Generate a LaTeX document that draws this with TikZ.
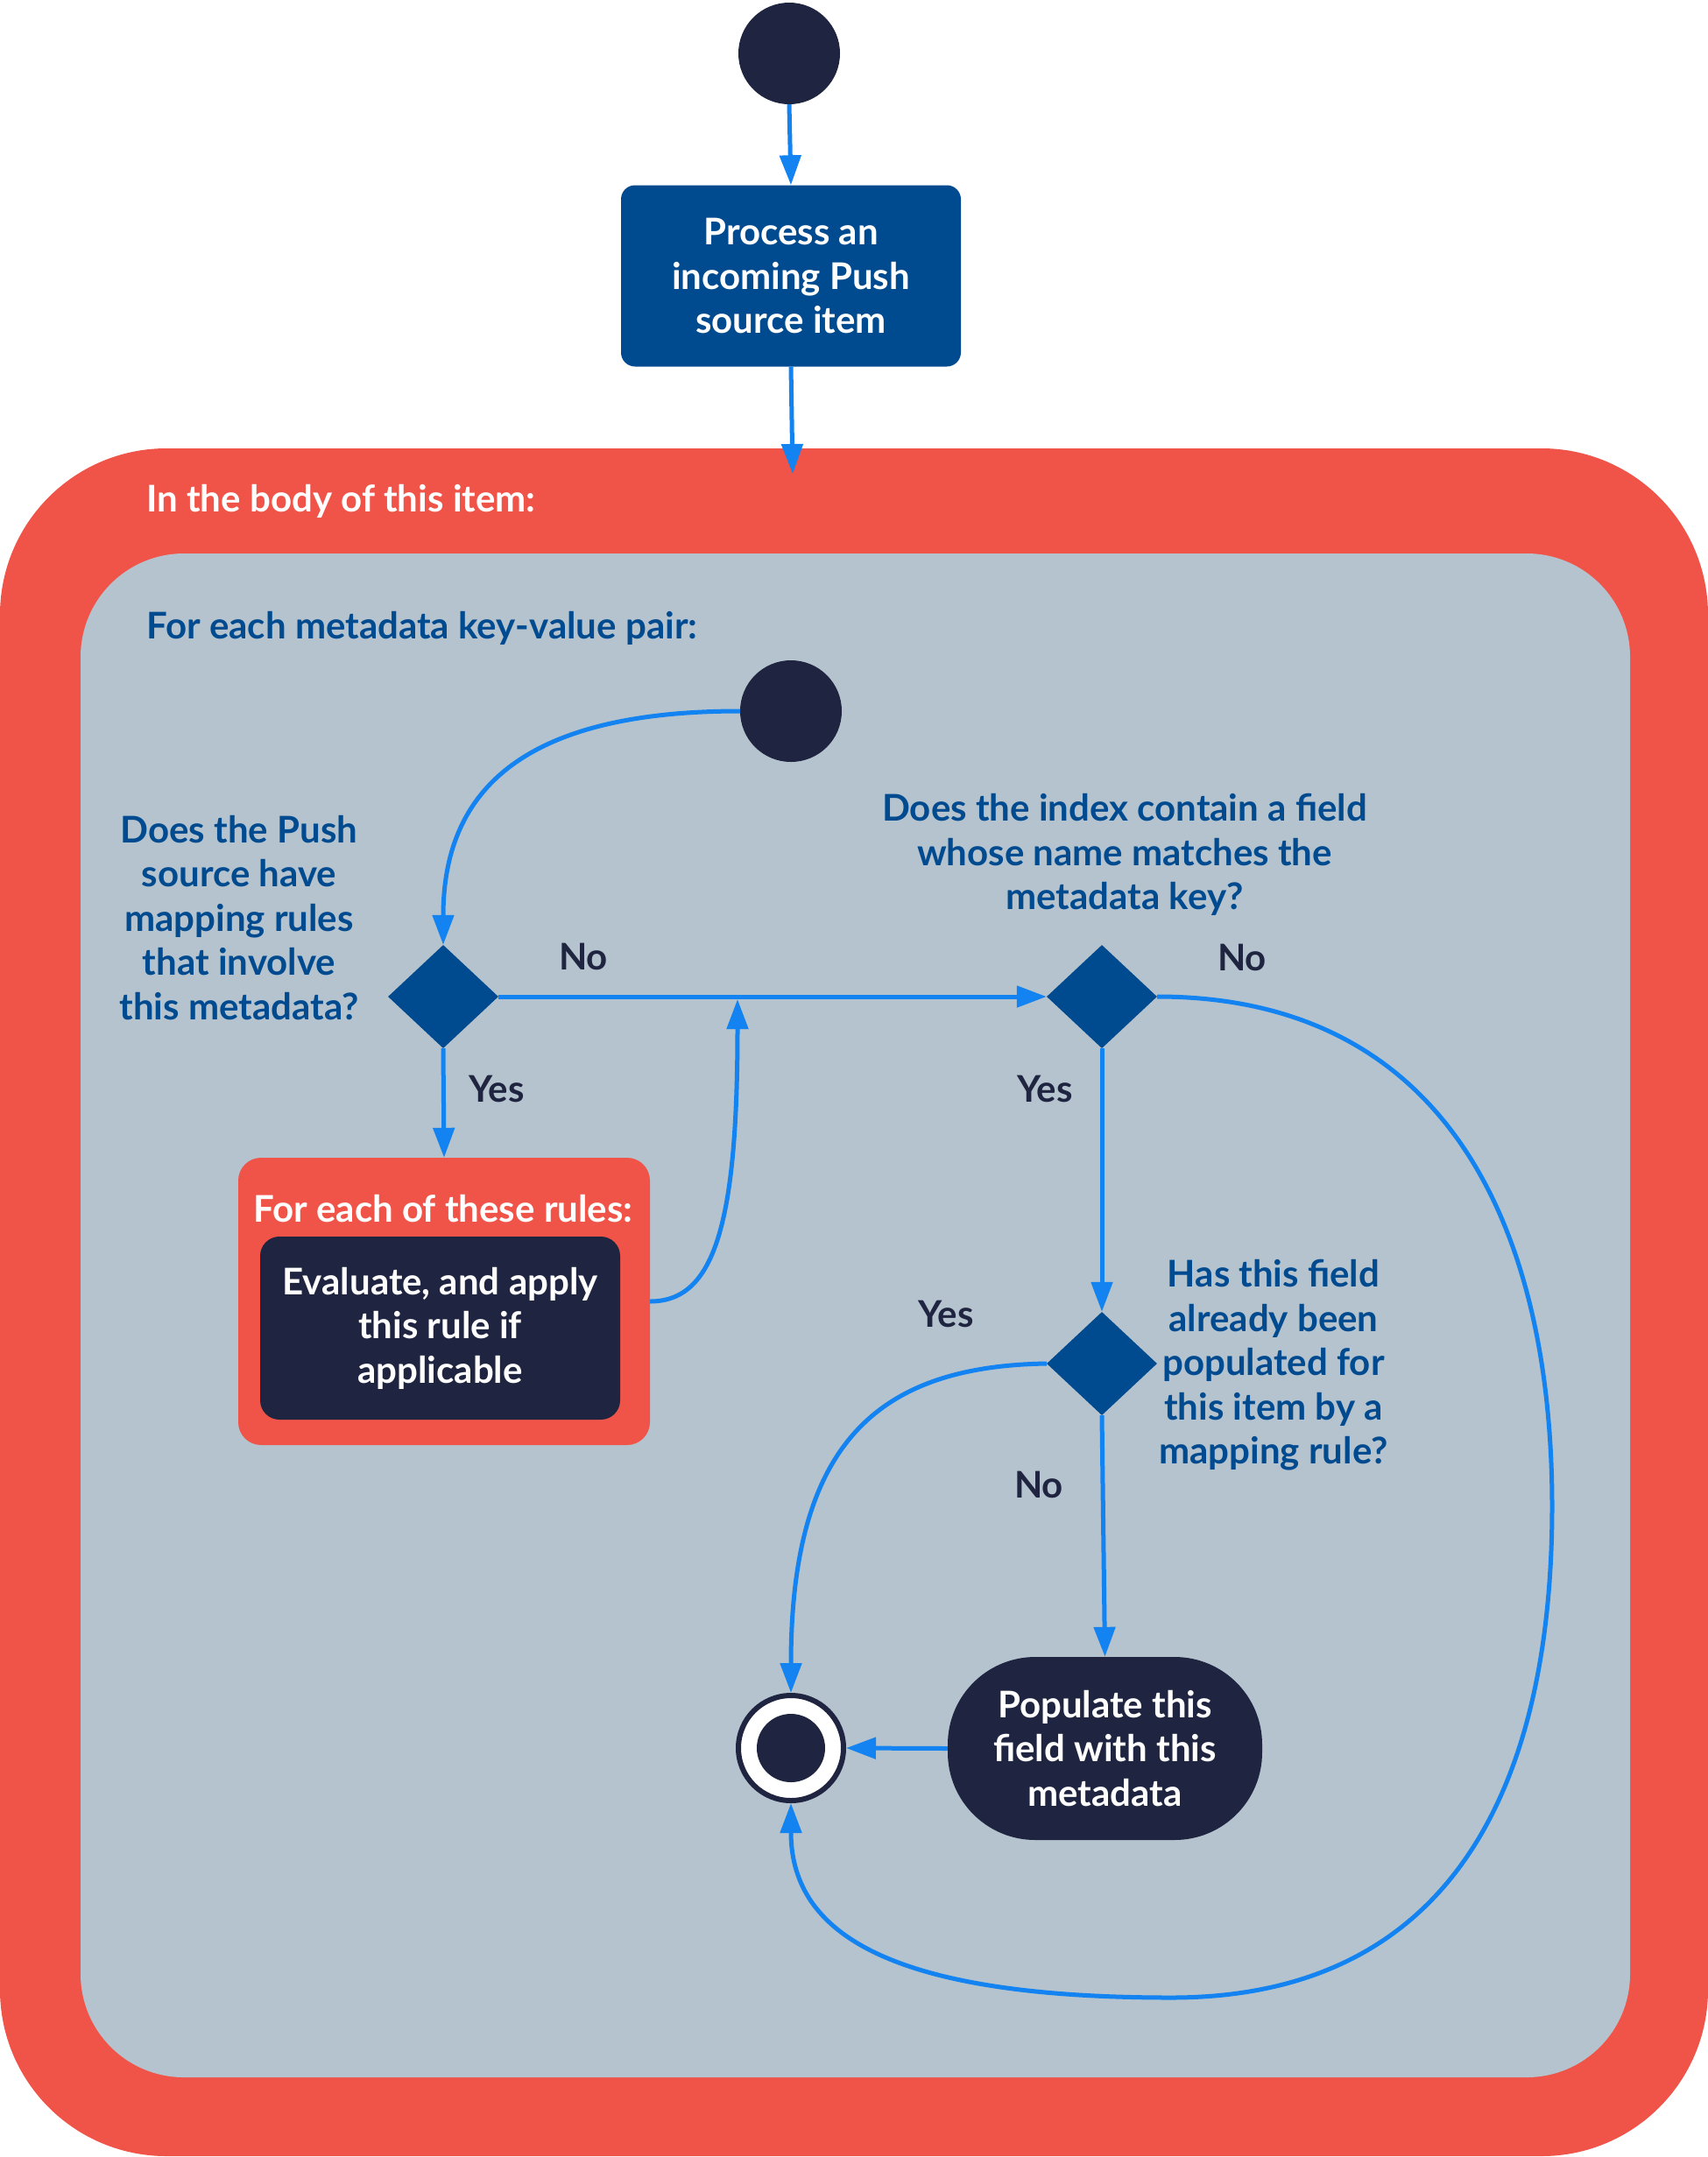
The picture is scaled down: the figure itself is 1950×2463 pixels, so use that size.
\documentclass[tikz,border=0pt]{standalone}
\usepackage{fontspec}
\setmainfont{Lato}
\usetikzlibrary{arrows.meta,shapes.geometric}
\definecolor{redc}{HTML}{F05449}
\definecolor{greyc}{HTML}{B5C3CE}
\definecolor{navy}{HTML}{1F2540}
\definecolor{dblue}{HTML}{004A8F}
\definecolor{arrowc}{HTML}{1283F0}
\begin{document}
\begin{tikzpicture}[x=1pt,y=-1pt,
  txt/.style={font=\fontsize{42}{50.5}\selectfont\bfseries, align=center, inner sep=0pt},
  qtext/.style={txt, text=dblue},
  lbl/.style={txt, text=navy},
  flow/.style={draw=arrowc, line width=5pt, -{Triangle[length=34pt,width=24pt]}},
  dec/.style={diamond, fill=dblue, minimum width=126pt, minimum height=118pt, inner sep=0pt},
  startc/.style={circle, fill=navy, minimum size=116pt, inner sep=0pt},
]
\useasboundingbox (0,0) rectangle (1950,2463);
\fill[redc, rounded corners=190pt] (0,512) rectangle (1950,2462);
\fill[greyc, rounded corners=118pt] (92,632) rectangle (1861,2372);

\node[startc] (s0) at (901,61) {};
\node[txt, fill=dblue, text=white, rounded corners=16pt, minimum width=388pt, minimum height=207pt] (proc) at (903,315) {Process an\\incoming Push\\source item};
\coordinate (intop) at (905,541);
\node[txt, text=white, anchor=west] (lab1) at (167,572) {In the body of this item:};
\node[qtext, anchor=west] (lab2) at (167,717) {For each metadata key-value pair:};
\node[startc] (s1) at (903,812) {};
\node[dec] (d1) at (506,1138) {};
\node[dec] (d2) at (1258,1138) {};
\node[dec] (d3) at (1258,1557) {};
\node[qtext] (q1) at (273,1048) {Does the Push\\source have\\mapping rules\\that involve\\this metadata?};
\node[qtext] (q2) at (1284,976) {Does the index contain a field\\whose name matches the\\metadata key?};
\node[qtext] (q3) at (1454,1559) {Has this field\\already been\\populated for\\this item by a\\mapping rule?};

\node[fill=redc, rounded corners=26pt, minimum width=470pt, minimum height=328pt, inner sep=0pt] (loop) at (507,1486) {};
\node[txt, text=white] (looplab) at (506,1380) {For each of these rules:};
\node[txt, fill=navy, text=white, rounded corners=22pt, minimum width=411pt, minimum height=209pt] (eval) at (502.5,1516.5) {Evaluate, and apply\\this rule if\\applicable};
\node[txt, fill=navy, text=white, rounded corners=100pt, minimum width=359pt, minimum height=209pt] (pop) at (1261.5,1996.5) {Populate this\\field with this\\metadata};
\node[circle, fill=white, draw=navy, line width=6pt, minimum size=120pt, inner sep=0pt] (end) at (903,1996) {};
\node[circle, fill=navy, minimum size=78pt, inner sep=0pt] (endin) at (903,1996) {};

\node[lbl] (no1) at (666,1092) {No};
\node[lbl] (yes1) at (567,1243) {Yes};
\node[lbl] (no2) at (1418,1093) {No};
\node[lbl] (yes2) at (1193,1243) {Yes};
\node[lbl] (yes3) at (1080,1500) {Yes};
\node[lbl] (no3) at (1186,1695) {No};

\coordinate (merge) at (842,1141);
\draw[flow] (s0.south) -- (proc.north);
\draw[flow] (proc.south) -- (intop);
\draw[flow] (s1.west) .. controls (600,812) and (506,900) .. (d1.north);
\draw[flow] (d1.east) -- (d2.west);
\draw[flow] (d1.south) -- (loop.north);
\draw[flow] (loop.east) .. controls (815,1486) and (842,1400) .. (merge);
\draw[flow] (d2.south) -- (d3.north);
\draw[flow] (d3.south) -- (pop.north);
\draw[flow] (pop.west) -- (end.east);
\draw[flow] (d3.west) .. controls (1000,1560) and (903,1650) .. (end.north);
\draw[flow] (d2.east) .. controls (1650,1138) and (1772,1400) .. (1772,1720) .. controls (1772,2050) and (1650,2281) .. (1337,2281) .. controls (1000,2281) and (903,2200) .. (end.south);
\end{tikzpicture}
\end{document}
